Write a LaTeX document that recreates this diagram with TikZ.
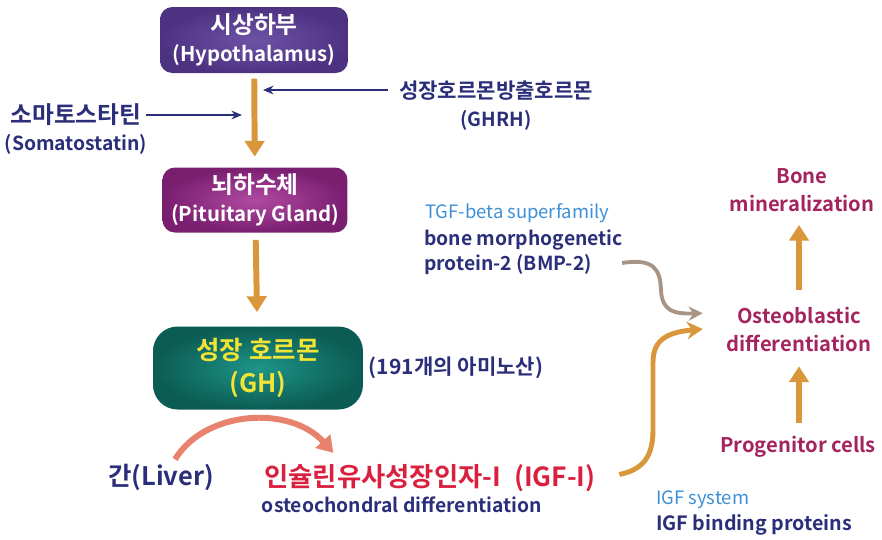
\documentclass[tikz,border=0pt]{standalone}
\usepackage{fontspec}
\setmainfont{Noto Sans CJK KR}[BoldFont={Noto Sans CJK KR Bold}]
\usepackage{xcolor}
\usetikzlibrary{positioning,calc,arrows.meta}

\definecolor{navy}{HTML}{2B2F7A}
\definecolor{wine}{HTML}{A3245E}
\definecolor{igfred}{HTML}{D9203F}
\definecolor{skyblue}{HTML}{3D8FD6}
\definecolor{arrorange}{HTML}{D9963A}
\definecolor{salmon}{HTML}{E8826C}
\definecolor{graybrown}{HTML}{A89484}
\definecolor{hypoin}{HTML}{6E52A6}
\definecolor{hypoout}{HTML}{4E3282}
\definecolor{pitin}{HTML}{B04AA2}
\definecolor{pitout}{HTML}{7A1E70}
\definecolor{ghin}{HTML}{1E9488}
\definecolor{ghout}{HTML}{0B5C54}
\definecolor{ghtext}{HTML}{F2E436}

\newcommand{\korline}[2]{{\fontsize{#1}{#1}\selectfont #2}}

\tikzset{
  box/.style={rounded corners=7pt, align=center, text=white,
    font=\bfseries\fontsize{11.6}{16}\selectfont},
  bigarrow/.style={draw=arrorange, line width=3.4pt, -{Triangle[width=11pt,length=9pt]}},
  thinarrow/.style={draw=navy, line width=0.8pt, -{Stealth[length=6pt,width=5pt]}},
  lbl/.style={text=navy, align=center, font=\bfseries\fontsize{11}{16}\selectfont},
  cell/.style={text=wine, align=center, font=\bfseries\fontsize{11.5}{16}\selectfont},
  fam/.style={text=skyblue, font=\fontsize{10.5}{12}\selectfont},
}

\begin{document}
\begin{tikzpicture}[x=0.02cm, y=-0.02cm]
    \useasboundingbox (0,0) rectangle (882,539);

    % Hormone axis
    \node[box, shade, inner color=hypoin, outer color=hypoout,
          minimum width=3.76cm, minimum height=1.32cm] (hypo) at (254,40) {\korline{13.5}{시상하부}\\(Hypothalamus)};
    \node[box, shade, inner color=pitin, outer color=pitout,
          minimum width=3.7cm, minimum height=1.3cm] (pit) at (255,200) {\korline{13.5}{뇌하수체}\\(Pituitary Gland)};
    \node[box, shade, inner color=ghin, outer color=ghout, text=ghtext, rounded corners=14pt,
          font=\bfseries\fontsize{14.5}{19}\selectfont,
          minimum width=4.2cm, minimum height=1.66cm] (gh) at (258,368) {성장 호르몬\\(GH)};

    \draw[bigarrow, shorten <=3pt, shorten >=6pt] (hypo) -- (pit);
    \draw[bigarrow, shorten <=4pt, shorten >=8pt] (pit) -- (gh);

    % Regulators
    \node[lbl] (ghrh) at (496,106) {\korline{12}{성장호르몬방출호르몬}\\(GHRH)};
    \coordinate (ghrhend) at (263,90);
    \draw[thinarrow] ([xshift=-3pt]ghrh.west |- ghrhend) -- (ghrhend);

    \node[lbl, font=\bfseries\fontsize{11}{15}\selectfont] (soma) at (76,129) {\korline{13.5}{소마토스타틴}\\(Somatostatin)};
    \coordinate (somaend) at (242,115);
    \draw[thinarrow] ([xshift=-4pt]soma.east |- somaend) -- (somaend);

    \node[lbl, font=\bfseries\fontsize{12}{16}\selectfont] (amino) at (456,368) {(191개의 아미노산)};

    % Liver and IGF-I
    \node[lbl, font=\bfseries\fontsize{14.5}{18}\selectfont] (liver) at (161,477) {간(Liver)};
    \node[text=igfred, font=\bfseries\fontsize{15}{18}\selectfont] (igf) at (430,478) {인슐린유사성장인자-I\enspace(IGF-I)};
    \node[lbl] (osteo) at (402,505) {osteochondral differentiation};
    \draw[salmon, line width=3.4pt, -{Triangle[width=11pt,length=9pt]}]
        ([xshift=8pt,yshift=-1pt]liver.north) .. controls (205,410) and (290,405) .. ([xshift=-55pt,yshift=3pt]igf.north);

    % BMP-2
    \node[fam, anchor=west] (tgf) at (419,213) {TGF-beta superfamily};
    \node[lbl, align=left, anchor=north west, font=\bfseries\fontsize{11}{14}\selectfont] (bmp) at (418,224) {bone morphogenetic\\protein-2 (BMP-2)};

    % Bone cells
    \node[cell] (bone) at (802,190) {Bone\\mineralization};
    \node[cell] (ob) at (799,329) {Osteoblastic\\differentiation};
    \node[cell] (prog) at (798,447) {Progenitor cells};
    \draw[bigarrow, shorten <=4pt, shorten >=5pt] (prog.north -| ob) -- (ob.south);
    \draw[bigarrow, shorten <=6pt, shorten >=4pt] (ob.north) -- (bone.south -| ob);

    \draw[graybrown, line width=2.2pt, -{Stealth[length=8pt,width=8pt]}]
        ([xshift=-4pt,yshift=-6pt]bmp.east) .. controls (655,258) and (660,270) .. (661,290)
        .. controls (662,312) and (675,314) .. ([xshift=-10pt,yshift=9pt]ob.west);
    \draw[arrorange, line width=2.8pt, -{Stealth[length=9pt,width=10pt]}]
        ([xshift=10pt,yshift=2pt]igf.east) .. controls (640,470) and (653,460) .. (653,430) -- (653,362)
        .. controls (653,338) and (670,332) .. ([xshift=-10pt,yshift=0pt]ob.west);

    % IGF system
    \node[fam, anchor=west] (igfsys) at (650,500) {IGF system};
    \node[lbl, anchor=west, font=\bfseries\fontsize{11.2}{14}\selectfont] (igfbp) at (650,525) {IGF binding proteins};
\end{tikzpicture}
\end{document}
